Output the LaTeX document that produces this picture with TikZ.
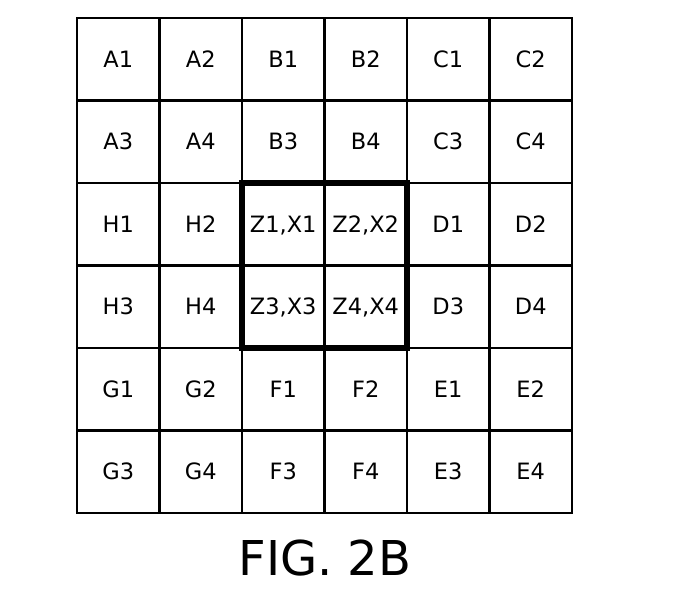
\documentclass[tikz,border=0pt]{standalone}
\usepackage{fontspec}
\setmainfont{DejaVu Sans}
\tikzset{
  cell/.style={draw,line width=2.5pt,minimum size=82.5pt,inner sep=0pt,outer sep=0pt,
    text height=16pt,text depth=0pt,font=\fontsize{22.5}{26}\selectfont},
  block/.style={line width=5.5pt}
}
\begin{document}
\begin{tikzpicture}[x=1pt,y=-1pt]
  \useasboundingbox (0,0) rectangle (700,600);
  % cells, row by row
  \foreach \lbl [count=\i from 0] in {A1,A2,B1,B2,C1,C2,
                                      A3,A4,B3,B4,C3,C4,
                                      H1,H2,{Z1,X1},{Z2,X2},D1,D2,
                                      H3,H4,{Z3,X3},{Z4,X4},D3,D4,
                                      G1,G2,F1,F2,E1,E2,
                                      G3,G4,F3,F4,E3,E4}{
    \pgfmathtruncatemacro\row{div(\i,6)}
    \pgfmathtruncatemacro\col{mod(\i,6)}
    \node[cell] (c\row\col) at ({118.25+82.5*\col},{59.25+82.5*\row}) {\lbl};
  }
  % central block
  \draw[block] (c22.north west) rectangle (c33.south east);
  \node[font=\fontsize{48}{52}\selectfont] (title) at (325,558) {FIG. 2B};
\end{tikzpicture}
\end{document}
